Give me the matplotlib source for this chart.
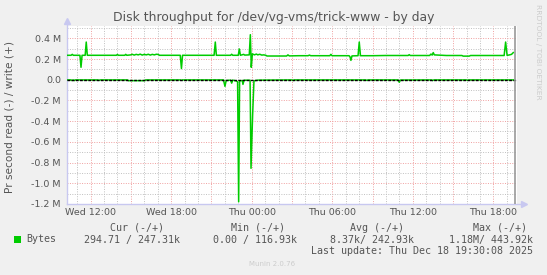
import matplotlib
matplotlib.use("Agg")
import matplotlib.pyplot as plt
import numpy as np

# hours relative to Thu 00:00, values in M bytes/s
write_t = [-13.79, -13.45, -13.36, -13.28, -12.85, -12.79, -12.71, -12.63, -12.40, -12.32,
           -12.24, -10.08, -10.00, -9.92, -9.45, -9.38, -9.30, -9.00, -8.90, -8.75, -8.60,
           -8.45, -8.30, -8.15, -8.00, -7.85, -7.70, -7.55, -7.40, -7.25, -7.10, -6.95, -6.87,
           -5.32, -5.23, -5.15, -2.80, -2.71, -2.63, -1.57, -1.49, -1.41, -1.00, -0.92, -0.84,
           -0.60, -0.52, -0.18, -0.10, -0.03, 0.05, 0.20, 0.35, 0.45, 0.60, 0.75, 0.90, 1.05,
           1.14, 2.60, 2.70, 2.80, 3.50, 4.20, 4.30, 4.40, 5.00, 5.82, 5.90, 5.98, 7.25, 7.32,
           7.39, 7.47, 7.92, 8.01, 8.10, 9.00, 10.00, 11.65, 11.73, 11.81, 13.25, 13.35, 13.44,
           13.52, 13.60, 14.50, 15.65, 15.75, 16.20, 16.30, 17.50, 18.80, 18.91, 19.02, 19.20,
           19.35, 19.48]
write_v = [0.236, 0.236, 0.245, 0.236, 0.236, 0.236, 0.120, 0.236, 0.236, 0.364,
           0.236, 0.236, 0.244, 0.236, 0.236, 0.245, 0.236, 0.240, 0.246, 0.238, 0.245,
           0.240, 0.247, 0.238, 0.245, 0.240, 0.246, 0.238, 0.245, 0.240, 0.246, 0.244, 0.236,
           0.236, 0.108, 0.236, 0.236, 0.364, 0.236, 0.236, 0.246, 0.236, 0.236, 0.297, 0.236,
           0.245, 0.238, 0.240, 0.435, 0.120, 0.250, 0.240, 0.248, 0.240, 0.246, 0.238, 0.240,
           0.236, 0.229, 0.229, 0.240, 0.230, 0.232, 0.232, 0.238, 0.232, 0.232, 0.232, 0.245,
           0.232, 0.232, 0.222, 0.187, 0.230, 0.232, 0.364, 0.232, 0.232, 0.234, 0.234, 0.242,
           0.234, 0.234, 0.248, 0.238, 0.262, 0.240, 0.234, 0.234, 0.228, 0.228, 0.234, 0.234,
           0.234, 0.364, 0.235, 0.240, 0.245, 0.262]

read_t = [-13.79, -13.45, -13.38, -13.30, -13.22, -13.15, -11.45, -11.37, -11.29, -9.25,
          -9.20, -7.95, -7.90, -5.30, -5.23, -5.15, -2.10, -1.99, -1.90, -1.57, -1.49, -1.41,
          -1.15, -1.05, -0.97, -0.90, -0.70, -0.65, -0.57, -0.12, -0.05, 0.07, 0.17, 0.50,
          3.00, 3.08, 3.16, 8.50, 8.58, 8.66, 10.90, 10.99, 11.08, 13.40, 13.48, 13.56, 16.00,
          16.08, 16.16, 19.48]
read_v = [-0.002, -0.002, -0.008, -0.002, -0.008, -0.002, -0.002, -0.007, -0.002, -0.002,
          -0.009, -0.009, -0.002, -0.002, -0.006, -0.002, -0.002, -0.064, -0.008, -0.004, -0.033,
          -0.004, -0.012, -0.020, -1.180, -0.010, -0.008, -0.045, -0.005, -0.005, -0.856,
          -0.340, -0.010, -0.004, -0.002, -0.008, -0.002, -0.002, -0.007, -0.002, -0.002,
          -0.025, -0.003, -0.002, -0.008, -0.002, -0.002, -0.007, -0.002, -0.002]

x_ticks = [-12, -6, 0, 6, 12, 18]
x_labels = ["Wed 12:00", "Wed 18:00", "Thu 00:00", "Thu 06:00", "Thu 12:00", "Thu 18:00"]
y_ticks = [0.4, 0.2, 0.0, -0.2, -0.4, -0.6, -0.8, -1.0, -1.2]
y_labels = ["0.4 M", "0.2 M", "0.0", "-0.2 M", "-0.4 M", "-0.6 M", "-0.8 M", "-1.0 M", "-1.2 M"]

legend_head = ["Cur (-/+)", "Min (-/+)", "Avg (-/+)", "Max (-/+)"]
legend_vals = ["294.71 / 247.31k", "0.00 / 116.93k", "8.37k/ 242.93k", "1.18M/ 443.92k"]

W, H = 547, 275
fig = plt.figure(figsize=(W / 100, H / 100), dpi=100)
fig.patch.set_facecolor("#F0F0F0")

x0, x1 = -13.79, 19.72
y0, y1 = -1.2, 0.52
left_px, right_px = 66.5, 516.5
bot_px, top_px = 203.9, 25.9
ax = fig.add_axes([left_px / W, 1 - bot_px / H, (right_px - left_px) / W, (bot_px - top_px) / H])
ax.set_facecolor("white")
ax.set_xlim(x0, x1)
ax.set_ylim(y0, y1)

# grid: minor gray every hour / 0.1M, major red every 3h / 0.2M
for h in range(-13, 20):
    col = "#F0A0A0" if h % 3 == 0 else "#C0C0C0"
    ax.axvline(h, color=col, lw=0.7, ls=(0, (1, 1.5)), zorder=1)
for i in range(-12, 6):
    col = "#F0A0A0" if i % 2 == 0 else "#C0C0C0"
    ax.axhline(i / 10, color=col, lw=0.7, ls=(0, (1, 1.5)), zorder=1)

ax.plot(write_t, write_v, color="#00CC00", lw=1.1, zorder=3)
ax.plot(read_t, read_v, color="#00CC00", lw=1.1, zorder=3)
ax.axhline(0, color="black", lw=1.0, ls=(0, (2, 1)), zorder=4)
ax.axvline(19.6, color="#999999", lw=1.2, zorder=5)

for s in ax.spines.values():
    s.set_visible(False)
ax.plot([0, 1.015], [0, 0], transform=ax.transAxes, color="#C8C8F0", lw=1, clip_on=False)
ax.plot([0, 0], [0, 1.02], transform=ax.transAxes, color="#C8C8F0", lw=1, clip_on=False)
ax.plot([1.017], [0], transform=ax.transAxes, marker=">", color="#C8C8F0", ms=5, clip_on=False)
ax.plot([0], [1.025], transform=ax.transAxes, marker="^", color="#C8C8F0", ms=5, clip_on=False)

ax.set_xticks(x_ticks)
ax.set_xticklabels(x_labels)
ax.set_yticks(y_ticks)
ax.set_yticklabels(y_labels)
ax.tick_params(length=0, labelsize=6.8, labelcolor="#555555", pad=4)
ax.tick_params(axis="x", pad=3)

fig.text(273.5 / W, 1 - 18 / H, "Disk throughput for /dev/vg-vms/trick-www - by day",
         ha="center", va="center", fontsize=8.9, color="#555555")
fig.text(10 / W, 1 - 117 / H, "Pr second read (-) / write (+)", rotation=90,
         ha="center", va="center", fontsize=7.6, color="#555555")
fig.text(538 / W, 1 - 52 / H, "RRDTOOL / TOBI OETIKER", rotation=270,
         ha="center", va="center", fontsize=5.4, color="#CCCCCC")

mono = "DejaVu Sans Mono"
head_x = [137, 258, 377, 500]
for hx, txt in zip(head_x, legend_head):
    fig.text(hx / W, 1 - 228 / H, txt, ha="center", va="center", fontsize=7.2,
             color="#555555", family=mono)
fig.patches.append(plt.Rectangle((14 / W, 1 - 243 / H), 7 / W, 7 / H, transform=fig.transFigure,
                                 facecolor="#00CC00", edgecolor="none"))
fig.text(26 / W, 1 - 239.5 / H, "Bytes", ha="left", va="center", fontsize=7.2,
         color="#555555", family=mono)
val_right = [180, 297, 414, 533]
for vx, txt in zip(val_right, legend_vals):
    fig.text(vx / W, 1 - 239.5 / H, txt, ha="right", va="center", fontsize=7.2,
             color="#555555", family=mono)
fig.text(533 / W, 1 - 251.5 / H, "Last update: Thu Dec 18 19:30:08 2025", ha="right",
         va="center", fontsize=7.2, color="#555555", family=mono)
fig.text(272 / W, 1 - 264 / H, "Munin 2.0.76", ha="center", va="center", fontsize=5,
         color="#CCCCCC")

fig.savefig("out.png", dpi=100, facecolor=fig.get_facecolor())
